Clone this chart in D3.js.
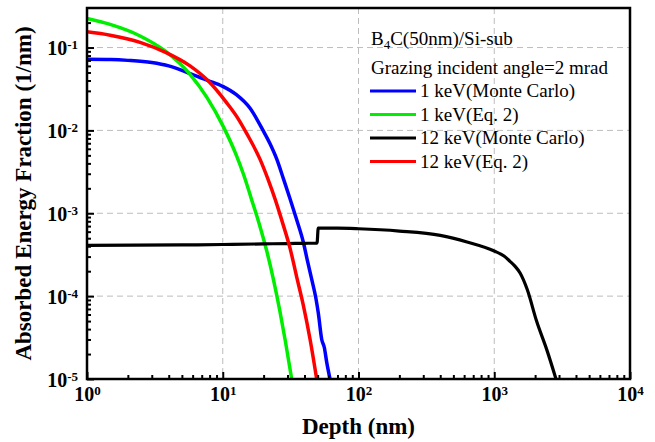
<!DOCTYPE html>
<html>
<head>
<meta charset="utf-8">
<script src="https://cdn.jsdelivr.net/npm/d3@7"></script>
<style>
  body { margin: 0; background: #fff; }
  svg { font-family: "Liberation Serif", "Times New Roman", serif; }
</style>
</head>
<body>
<div class="chart"></div>
<script>
const margin = { top: 8, left: 87, right: 25, bottom: 63 };
const width = 655 - margin.left - margin.right;
const height = 442 - margin.top - margin.bottom;

// 1 keV (Monte Carlo)
const blueDepth = [1, 1.5, 2, 3, 4, 5, 6, 7.8, 10, 12.6, 15.9, 19.8, 22.3, 25, 28, 31.3, 35, 39.2, 42, 45.2, 48.5, 50.6, 53.6, 56, 58.3, 61.7];
const blueValue = [0.072, 0.0715, 0.070, 0.066, 0.060, 0.053, 0.047, 0.040, 0.034, 0.027, 0.0185, 0.0100, 0.0069, 0.0045, 2.6e-3, 1.5e-3, 8.4e-4, 4.5e-4, 2.7e-4, 1.6e-4, 9.5e-5, 6.2e-5, 3.0e-5, 2.4e-5, 1.6e-5, 1.0e-5];

// 1 keV (Eq. 2)
const greenDepth = [1, 1.48, 2.46, 3.76, 5.74, 7.62, 10.1, 12.6, 14.3, 16.3, 18.5, 21.1, 23.7, 26.4, 29, 32.2];
const greenValue = [0.224, 0.19, 0.138, 0.091, 0.0475, 0.0252, 0.0111, 0.0050, 2.88e-3, 1.47e-3, 7.6e-4, 3.5e-4, 1.55e-4, 6.5e-5, 2.8e-5, 1.0e-5];

// 12 keV (Monte Carlo)
const blackDepth = [1, 5, 10, 20, 30, 40, 49.5, 50.5, 70, 100, 200, 400, 630, 1000, 1180, 1300, 1420, 1550, 1750, 2050, 2450, 2850];
const blackValue = [4.1e-4, 4.15e-4, 4.2e-4, 4.27e-4, 4.31e-4, 4.34e-4, 4.37e-4, 6.6e-4, 6.6e-4, 6.5e-4, 6.1e-4, 5.4e-4, 4.5e-4, 3.5e-4, 3.05e-4, 2.65e-4, 2.3e-4, 1.9e-4, 1.2e-4, 5.0e-5, 2.2e-5, 1.0e-5];

// 12 keV (Eq. 2)
const redDepth = [1, 1.48, 2.46, 3.76, 5.74, 7.8, 10.7, 13, 15, 18.8, 21.5, 24.3, 27.7, 31.3, 35, 39.2, 44, 49.2];
const redValue = [0.155, 0.141, 0.1155, 0.088, 0.060, 0.0397, 0.0215, 0.0138, 0.0092, 0.0045, 2.6e-3, 1.48e-3, 7.5e-4, 3.8e-4, 1.72e-4, 7.8e-5, 3.0e-5, 1.0e-5];

const xTicks = [1, 10, 100, 1000, 10000];
const xTickExp = ["0", "1", "2", "3", "4"];
const yTicks = [1e-5, 1e-4, 1e-3, 1e-2, 1e-1];
const yTickExp = ["-5", "-4", "-3", "-2", "-1"];

const seriesNames = ["1 keV(Monte Carlo)", "1 keV(Eq. 2)", "12 keV(Monte Carlo)", "12 keV(Eq. 2)"];
const seriesColors = ["#0000ff", "#00ee00", "#000000", "#ff0000"];

const series = [
  { name: seriesNames[0], color: seriesColors[0], values: blueDepth.map((d, i) => [d, blueValue[i]]) },
  { name: seriesNames[1], color: seriesColors[1], values: greenDepth.map((d, i) => [d, greenValue[i]]) },
  { name: seriesNames[2], color: seriesColors[2], values: blackDepth.map((d, i) => [d, blackValue[i]]) },
  { name: seriesNames[3], color: seriesColors[3], values: redDepth.map((d, i) => [d, redValue[i]]) }
];

const svg = d3.select(".chart")
  .append("svg")
  .attr("width", 655)
  .attr("height", 442)
  .append("g")
  .attr("transform", `translate(${margin.left}, ${margin.top})`);

const xScale = d3.scaleLog().domain([1, 10000]).range([0, width]);
const yScale = d3.scaleLog().domain([1e-5, 0.3]).range([height, 0]);

// minor tick values
const minorX = [];
for (let p = 1; p < 10000; p *= 10) for (let k = 2; k <= 9; k++) minorX.push(p * k);
const minorY = [];
for (let p = 1e-5; p < 0.3; p *= 10) for (let k = 2; k <= 9; k++) if (p * k < 0.3) minorY.push(p * k);

// grid
svg.append("g")
  .selectAll("line")
  .data(xTicks.slice(1, -1))
  .join("line")
  .attr("x1", d => xScale(d)).attr("x2", d => xScale(d))
  .attr("y1", 0).attr("y2", height)
  .attr("stroke", "#bdbdbd").attr("stroke-dasharray", "6,4");

svg.append("g")
  .selectAll("line")
  .data(yTicks.slice(1))
  .join("line")
  .attr("y1", d => yScale(d)).attr("y2", d => yScale(d))
  .attr("x1", 0).attr("x2", width)
  .attr("stroke", "#bdbdbd").attr("stroke-dasharray", "6,4");

// curves
svg.append("clipPath").attr("id", "clip")
  .append("rect").attr("width", width).attr("height", height);

const line = d3.line()
  .x(d => xScale(d[0]))
  .y(d => yScale(d[1]))
  .curve(d3.curveMonotoneX);

svg.append("g")
  .attr("clip-path", "url(#clip)")
  .selectAll("path")
  .data(series)
  .join("path")
  .attr("fill", "none")
  .attr("stroke", d => d.color)
  .attr("stroke-width", d => d.color === "#000000" ? 3.2 : 3.5)
  .attr("stroke-linejoin", "round")
  .attr("d", d => line(d.values));

// axes
const xAxis = svg.append("g")
  .attr("class", "axis x-axis")
  .attr("transform", `translate(0, ${height})`)
  .call(d3.axisBottom(xScale).tickValues(xTicks).tickSize(-7).tickPadding(8).tickFormat(""));

svg.append("g")
  .attr("transform", `translate(0, ${height})`)
  .call(d3.axisBottom(xScale).tickValues(minorX).tickSize(-4).tickFormat(""))
  .call(g => g.select(".domain").remove());

const yAxis = svg.append("g")
  .attr("class", "axis y-axis")
  .call(d3.axisLeft(yScale).tickValues(yTicks).tickSize(-7).tickPadding(9).tickFormat(""));

svg.append("g")
  .call(d3.axisLeft(yScale).tickValues(minorY).tickSize(-4).tickFormat(""))
  .call(g => g.select(".domain").remove());

svg.selectAll(".tick line").attr("stroke", "#000").attr("stroke-width", 2);
svg.selectAll(".domain").remove();

xAxis.selectAll(".tick text").each(function(d, i) {
  const t = d3.select(this)
    .attr("font-size", 20).attr("font-weight", "bold")
    .attr("font-family", "'Liberation Serif', 'Times New Roman', serif")
    .attr("fill", "#000").attr("dy", "0.71em");
  t.append("tspan").text("10");
  t.append("tspan").attr("dy", "-0.45em").attr("font-size", 13).text(xTickExp[i]);
});

yAxis.selectAll(".tick text").each(function(d, i) {
  const t = d3.select(this)
    .attr("font-size", 20).attr("font-weight", "bold")
    .attr("font-family", "'Liberation Serif', 'Times New Roman', serif")
    .attr("fill", "#000").attr("dy", "0.35em");
  t.append("tspan").text("10");
  t.append("tspan").attr("dy", "-0.45em").attr("font-size", 13).text(yTickExp[i]);
});

// frame
svg.append("rect")
  .attr("width", width).attr("height", height)
  .attr("fill", "none").attr("stroke", "#000").attr("stroke-width", 2.5);

// axis titles
svg.append("text")
  .attr("x", width / 2).attr("y", height + 55)
  .attr("text-anchor", "middle")
  .attr("font-size", 23).attr("font-weight", "bold")
  .text("Depth (nm)");

svg.append("text")
  .attr("transform", `translate(${-margin.left + 31}, ${height / 2}) rotate(-90)`)
  .attr("text-anchor", "middle")
  .attr("font-size", 23).attr("font-weight", "bold")
  .text("Absorbed Energy Fraction (1/nm)");

// legend
const legend = svg.append("g").attr("transform", `translate(${371 - margin.left}, ${45 - margin.top})`);

const title = legend.append("text").attr("font-size", 19);
title.append("tspan").text("B");
title.append("tspan").attr("font-size", 13).attr("dy", 4).text("4");
title.append("tspan").attr("dy", -4).text("C(50nm)/Si-sub");

legend.append("text").attr("y", 29).attr("font-size", 19)
  .text("Grazing incident angle=2 mrad");

const items = legend.selectAll(".item")
  .data(series)
  .join("g")
  .attr("class", "item")
  .attr("transform", (d, i) => `translate(0, ${46 + i * 23.5})`);

items.append("line")
  .attr("x1", -1).attr("x2", 45)
  .attr("stroke", d => d.color).attr("stroke-width", 3.2);

items.append("text")
  .attr("x", 49).attr("dy", "0.33em")
  .attr("font-size", 19)
  .text(d => d.name);
</script>
</body>
</html>
